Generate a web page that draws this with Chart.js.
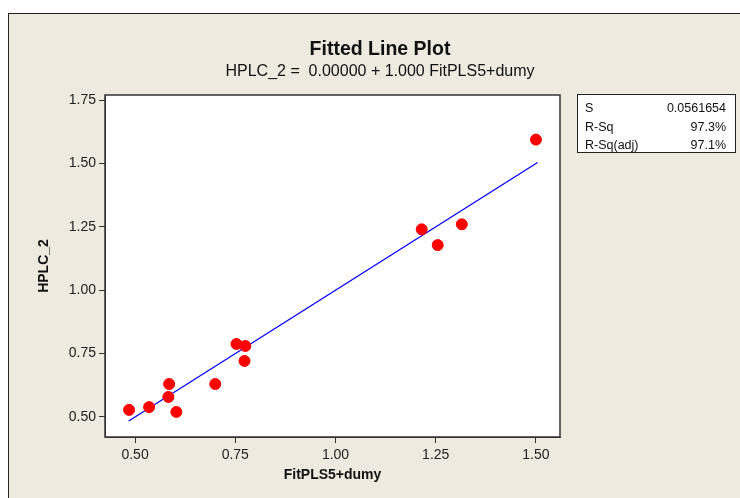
<!DOCTYPE html>
<html>
<head>
<meta charset="utf-8">
<script src="https://cdn.jsdelivr.net/npm/chart.js@4"></script>
<style>
  body { margin: 0; background: #fff; }
  #wrap { position: relative; width: 740px; height: 498px; overflow: hidden; }
  #frame { position: absolute; left: 8px; top: 13px; width: 800px; height: 600px;
           background: #eeeae0; border-left: 1px solid #222; border-top: 1px solid #222; }
  #chart { position: absolute; left: 0; top: 0; }
  .title { position: absolute; left: 0; width: 760px; text-align: center; font-family: "Liberation Sans", Arial, sans-serif; color: #111; }
  #t1 { top: 37px; font-size: 19.5px; font-weight: bold; }
  #t2 { top: 62px; font-size: 16px; }
  #stats { position: absolute; left: 577px; top: 94px; width: 157px; height: 57px; background: #fff;
           border: 1px solid #222; font-family: "Liberation Sans", Arial, sans-serif; font-size: 12.5px; color: #111; }
  #stats div { position: absolute; left: 7px; right: 9px; height: 16px; }
  #stats span { float: right; }
</style>
</head>
<body>
<div id="wrap">
  <div id="frame"></div>
  <canvas id="chart" width="740" height="498"></canvas>
  <div class="title" id="t1">Fitted Line Plot</div>
  <div class="title" id="t2">HPLC_2 =&nbsp; 0.00000 + 1.000 FitPLS5+dumy</div>
  <div id="stats"></div>
</div>
<script>
// observed points
const fitValues = [0.485, 0.535, 0.585, 0.583, 0.603, 0.700, 0.753, 0.775, 0.773, 1.215, 1.255, 1.315, 1.500];
const hplcValues = [0.528, 0.539, 0.630, 0.579, 0.520, 0.630, 0.788, 0.780, 0.721, 1.240, 1.178, 1.260, 1.594];

// fitted line end points
const lineX = [0.484, 1.504];
const lineY = [0.484, 1.504];

const xTicks = [0.50, 0.75, 1.00, 1.25, 1.50];
const yTicks = [0.50, 0.75, 1.00, 1.25, 1.50, 1.75];

const statNames = ['S', 'R-Sq', 'R-Sq(adj)'];
const statValues = ['0.0561654', '97.3%', '97.1%'];

const statsBox = document.getElementById('stats');
statNames.forEach((n, i) => {
  const row = document.createElement('div');
  row.style.top = (6 + i * 18.5) + 'px';
  row.innerHTML = n + '<span>' + statValues[i] + '</span>';
  statsBox.appendChild(row);
});

const plotBg = {
  id: 'plotBg',
  beforeDraw(chart) {
    const a = chart.chartArea, c = chart.ctx;
    c.save();
    c.fillStyle = '#fff';
    c.fillRect(a.left, a.top, a.right - a.left, a.bottom - a.top);
    c.restore();
  },
  afterDraw(chart) {
    const a = chart.chartArea, c = chart.ctx;
    c.save();
    c.strokeStyle = '#333';
    c.lineWidth = 1.5;
    c.strokeRect(a.left, a.top, a.right - a.left, a.bottom - a.top);
    c.restore();
  }
};

const tickFont = { family: '"Liberation Sans", Arial, sans-serif', size: 14 };
const axisTitleFont = { family: '"Liberation Sans", Arial, sans-serif', size: 14, weight: 'bold' };

new Chart(document.getElementById('chart'), {
  data: {
    datasets: [
      {
        type: 'scatter',
        data: fitValues.map((x, i) => ({ x: x, y: hplcValues[i] })),
        backgroundColor: '#ff0000',
        borderColor: '#ff0000',
        pointRadius: 5.5,
        order: 1
      },
      {
        type: 'line',
        data: lineX.map((x, i) => ({ x: x, y: lineY[i] })),
        borderColor: '#0000ff',
        borderWidth: 1.3,
        pointRadius: 0,
        fill: false,
        order: 2
      }
    ]
  },
  options: {
    responsive: false,
    animation: false,
    layout: { padding: { left: 0, right: 180, top: 95, bottom: 0 } },
    plugins: { legend: { display: false }, tooltip: { enabled: false } },
    scales: {
      x: {
        type: 'linear',
        min: 0.425,
        max: 1.56,
        afterBuildTicks: s => { s.ticks = xTicks.map(v => ({ value: v })); },
        afterFit: s => { s.height = 61; },
        ticks: { color: '#222', font: tickFont, padding: 4, callback: v => v.toFixed(2) },
        grid: { drawOnChartArea: false, tickLength: 6, color: '#333' },
        border: { color: '#333' },
        title: { display: true, text: 'FitPLS5+dumy', color: '#111', font: axisTitleFont, padding: { top: 0, bottom: 14 } }
      },
      y: {
        type: 'linear',
        min: 0.421,
        max: 1.77,
        afterBuildTicks: s => { s.ticks = yTicks.map(v => ({ value: v })); },
        afterFit: s => { s.width = 105; },
        ticks: { color: '#222', font: tickFont, padding: 3, callback: v => v.toFixed(2) },
        grid: { drawOnChartArea: false, tickLength: 6, color: '#333' },
        border: { color: '#333' },
        title: { display: true, text: 'HPLC_2', color: '#111', font: axisTitleFont, padding: { top: 36, bottom: 0 } }
      }
    }
  },
  plugins: [plotBg]
});
</script>
</body>
</html>
